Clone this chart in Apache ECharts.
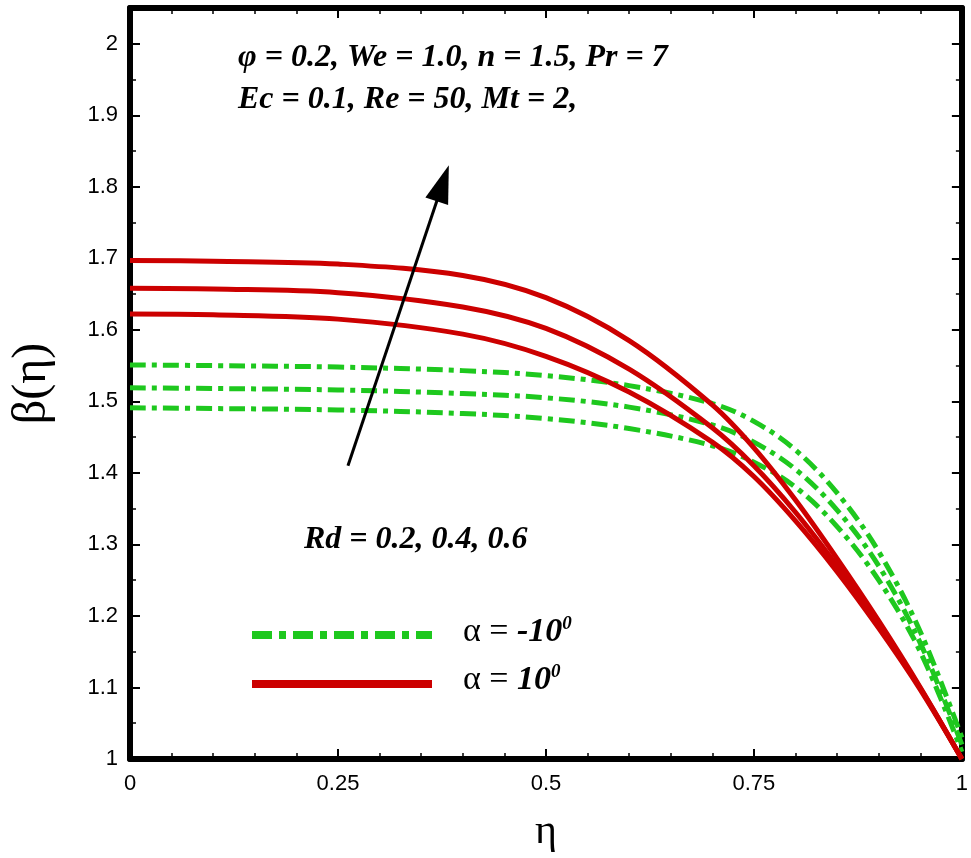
<!DOCTYPE html>
<html>
<head>
<meta charset="utf-8">
<script src="https://cdn.jsdelivr.net/npm/echarts@6/dist/echarts.min.js"></script>
<style>html,body{margin:0;padding:0;background:#fff}#c{width:971px;height:858px}</style>
</head>
<body>
<div id="c"></div>
<script>
const etaValues = [0, 0.1, 0.25, 0.4, 0.5, 0.6, 0.7, 0.75, 0.8, 0.85, 0.9, 0.95, 1];
// alpha = 10 deg, Rd = 0.2, 0.4, 0.6
const redRd02 = [1.622, 1.621, 1.615, 1.594, 1.563, 1.513, 1.443, 1.395, 1.333, 1.262, 1.183, 1.097, 1.0];
const redRd04 = [1.658, 1.657, 1.652, 1.632, 1.602, 1.545, 1.463, 1.41, 1.345, 1.27, 1.188, 1.099, 1.0];
const redRd06 = [1.697, 1.696, 1.692, 1.676, 1.645, 1.585, 1.495, 1.435, 1.362, 1.28, 1.193, 1.1, 1.0];
// alpha = -10 deg
const greenRd02 = [1.491, 1.490, 1.488, 1.483, 1.476, 1.462, 1.438, 1.415, 1.380, 1.325, 1.250, 1.150, 1.01];
const greenRd04 = [1.519, 1.518, 1.516, 1.511, 1.505, 1.492, 1.467, 1.443, 1.405, 1.348, 1.270, 1.162, 1.02];
const greenRd06 = [1.551, 1.550, 1.548, 1.543, 1.536, 1.522, 1.497, 1.472, 1.432, 1.372, 1.290, 1.178, 1.03];
const arrowFrom = [0.262, 1.41];
const arrowTo = [0.376, 1.805];

const pair = ys => etaValues.map((x, i) => [x, ys[i]]);
const dashDot = [16, 6, 5, 6];
const red = "#cc0000", green = "#1ec81e";
const serif = "Liberation Serif";

function redSeries(ys) {
    return { type: "line", data: pair(ys), smooth: 0.35, symbol: "none", lineStyle: { color: red, width: 5 } };
}
function greenSeries(ys) {
    return { type: "line", data: pair(ys), smooth: 0.35, symbol: "none", lineStyle: { color: green, width: 5, type: dashDot } };
}

const axisCommon = {
    axisLine: { show: true, onZero: false, lineStyle: { color: "#000", width: 6 } },
    axisTick: { show: true, inside: true, length: 10, lineStyle: { color: "#000", width: 2 } },
    minorTick: { show: true, splitNumber: 5, length: 6, lineStyle: { color: "#000", width: 1.5 } },
    splitLine: { show: false }
};

const chart = echarts.init(document.getElementById("c"), null, { renderer: "canvas" });
chart.setOption({
    animation: false,
    grid: { left: 120, right: 9, top: 8, bottom: 88 },
    xAxis: [
        Object.assign({}, axisCommon, {
            type: "value", min: 0, max: 1, interval: 0.25, position: "bottom",
            axisLabel: { color: "#000", fontFamily: "Liberation Sans", fontSize: 22, margin: 14,
                formatter: v => String(v) },
            name: "η", nameLocation: "middle", nameGap: 52,
            nameTextStyle: { fontFamily: serif, fontSize: 42, color: "#000" }
        }),
        Object.assign({}, axisCommon, { type: "value", min: 0, max: 1, interval: 0.25, position: "top", axisLabel: { show: false } })
    ],
    yAxis: [
        Object.assign({}, axisCommon, {
            type: "value", min: 1, max: 2.05, interval: 0.1, position: "left",
            minorTick: Object.assign({}, axisCommon.minorTick, { splitNumber: 2 }),
            axisLabel: { color: "#000", fontFamily: "Liberation Sans", fontSize: 22, margin: 12,
                formatter: v => (v > 2.01 ? "" : String(Math.round(v * 10) / 10)) },
            name: "β(η)", nameLocation: "middle", nameGap: 74,
            nameTextStyle: { fontFamily: serif, fontSize: 48, color: "#000" }
        }),
        Object.assign({}, axisCommon, { type: "value", min: 1, max: 2.05, interval: 0.1, position: "right",
            minorTick: Object.assign({}, axisCommon.minorTick, { splitNumber: 2 }), axisLabel: { show: false } })
    ],
    series: [
        greenSeries(greenRd02), greenSeries(greenRd04), greenSeries(greenRd06),
        redSeries(redRd02), redSeries(redRd04), redSeries(redRd06),
        {
            type: "line", data: [], symbol: "none",
            markLine: {
                silent: true, symbol: ["none", "triangle"], symbolSize: [24, 38],
                label: { show: false },
                lineStyle: { color: "#000", width: 3, type: "solid" },
                data: [[{ coord: arrowFrom }, { coord: arrowTo }]]
            }
        }
    ],
    graphic: [
        { type: "text", left: 238, top: 42, style: { text: "φ = 0.2, We = 1.0, n = 1.5, Pr = 7", font: "italic bold 32px 'Liberation Serif'", fill: "#000" } },
        { type: "text", left: 238, top: 84, style: { text: "Ec = 0.1, Re = 50, Mt = 2,", font: "italic bold 32px 'Liberation Serif'", fill: "#000" } },
        { type: "text", left: 304, top: 524, style: { text: "Rd = 0.2, 0.4, 0.6", font: "italic bold 32px 'Liberation Serif'", fill: "#000" } },
        { type: "line", shape: { x1: 252, y1: 635, x2: 432, y2: 635 }, style: { stroke: green, lineWidth: 8, lineDash: [20, 7, 7, 7] } },
        { type: "line", shape: { x1: 252, y1: 684, x2: 432, y2: 684 }, style: { stroke: red, lineWidth: 8 } },
        { type: "text", left: 463, top: 615, style: { rich: { a: { font: "34px 'Liberation Serif'" }, b: { font: "italic bold 34px 'Liberation Serif'" }, s: { font: "italic bold 19px 'Liberation Serif'", verticalAlign: "top", padding: [0, 0, 16, 0] } }, text: "{a|α = }{b|-10}{s|0}", fill: "#000" } },
        { type: "text", left: 463, top: 663, style: { rich: { a: { font: "34px 'Liberation Serif'" }, b: { font: "italic bold 34px 'Liberation Serif'" }, s: { font: "italic bold 19px 'Liberation Serif'", verticalAlign: "top", padding: [0, 0, 16, 0] } }, text: "{a|α = }{b|10}{s|0}", fill: "#000" } }
    ]
});
</script>
</body>
</html>
